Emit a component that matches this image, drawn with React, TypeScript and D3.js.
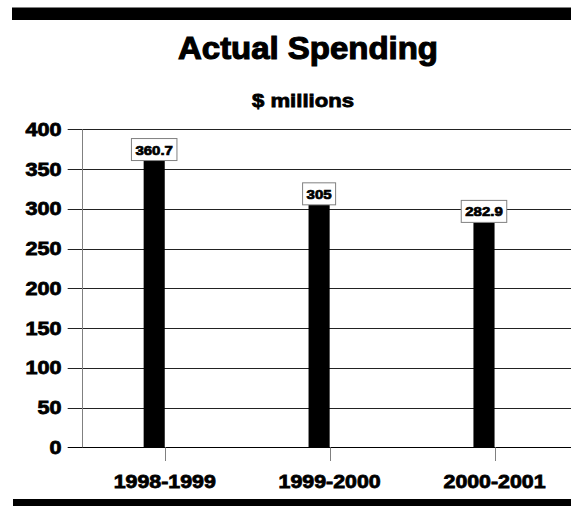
import React from "react";
import * as d3 from "d3";

const categories = ["1998-1999", "1999-2000", "2000-2001"];
const values = [360.7, 305, 282.9];
const valueLabels = ["360.7", "305", "282.9"];
const yTicks = [0, 50, 100, 150, 200, 250, 300, 350, 400];
const title = "Actual Spending";
const subtitle = "$ millions";

const W = 571;
const H = 506;
const FONT = "'Liberation Sans', Arial, sans-serif";

// approximate Arial Black advance widths (em)
const adv = (s: string) =>
  s.split("").reduce((a, c) => {
    if (/[0-9$]/.test(c)) return a + 0.667;
    if (c === "-" || c === "." || c === " ") return a + 0.333;
    return a + 0.667;
  }, 0);

export default function App() {
  const x = d3.scaleBand<string>().domain(categories).range([82.3, 577]).padding(0);
  const y = d3.scaleLinear().domain([0, 400]).range([447.3, 129.3]);
  const barW = x.bandwidth() * 0.128;
  const center = (c: string) => (x(c) as number) + x.bandwidth() / 2;

  return (
    <svg
      width={W}
      height={H}
      style={{ position: "absolute", left: 0, top: 0, background: "#fff" }}
      fontFamily={FONT}
      fontWeight="bold"
    >
      <rect x={12} y={7.5} width={W - 12} height={12.5} fill="#000" />
      <rect x={13} y={499} width={W - 13} height={7} fill="#000" />

      <text
        x={308}
        y={59}
        textAnchor="middle"
        fontSize={31}
        textLength={260}
        lengthAdjust="spacingAndGlyphs"
        stroke="#000"
        strokeWidth={1.1}
      >
        {title}
      </text>
      <text
        x={303}
        y={107}
        textAnchor="middle"
        fontSize={19}
        textLength={102}
        lengthAdjust="spacingAndGlyphs"
        stroke="#000"
        strokeWidth={0.8}
      >
        {subtitle}
      </text>

      {yTicks.map((t) => (
        <g key={t}>
          <line
            x1={67.7}
            x2={W}
            y1={Math.round(y(t)) + 0.5}
            y2={Math.round(y(t)) + 0.5}
            stroke={t === 0 ? "#000" : "#222"}
            strokeWidth={1}
          />
          <text
            x={61.5}
            y={y(t) + 6.5}
            textAnchor="end"
            fontSize={18}
            textLength={adv(String(t)) * 18}
            lengthAdjust="spacingAndGlyphs"
            stroke="#000"
            strokeWidth={0.8}
          >
            {t}
          </text>
        </g>
      ))}

      <line x1={82.5} x2={82.5} y1={y(400)} y2={y(0)} stroke="#808080" strokeWidth={1} />

      {categories.map((c, i) => {
        const cx = center(c);
        const top = y(values[i]);
        const lbl = valueLabels[i];
        const tw = adv(lbl) * 12.5;
        const bw = tw + 8;
        return (
          <g key={c}>
            <rect x={cx - barW} y={top} width={barW} height={y(0) - top} fill="#000" />
            <line x1={Math.round(cx) + 0.5} x2={Math.round(cx) + 0.5} y1={y(0)} y2={461} stroke="#808080" strokeWidth={1} />
            <rect
              x={cx - barW / 2 - bw / 2}
              y={top - 22}
              width={bw}
              height={22}
              fill="#fff"
              stroke="#808080"
              strokeWidth={1}
            />
            <text
              x={cx - barW / 2}
              y={top - 6}
              textAnchor="middle"
              fontSize={12.5}
              textLength={tw}
              lengthAdjust="spacingAndGlyphs"
              stroke="#000"
              strokeWidth={0.7}
            >
              {lbl}
            </text>
            <text
              x={cx}
              y={488}
              textAnchor="middle"
              fontSize={18}
              textLength={adv(c) * 18}
              lengthAdjust="spacingAndGlyphs"
              stroke="#000"
              strokeWidth={0.8}
            >
              {c}
            </text>
          </g>
        );
      })}
    </svg>
  );
}
